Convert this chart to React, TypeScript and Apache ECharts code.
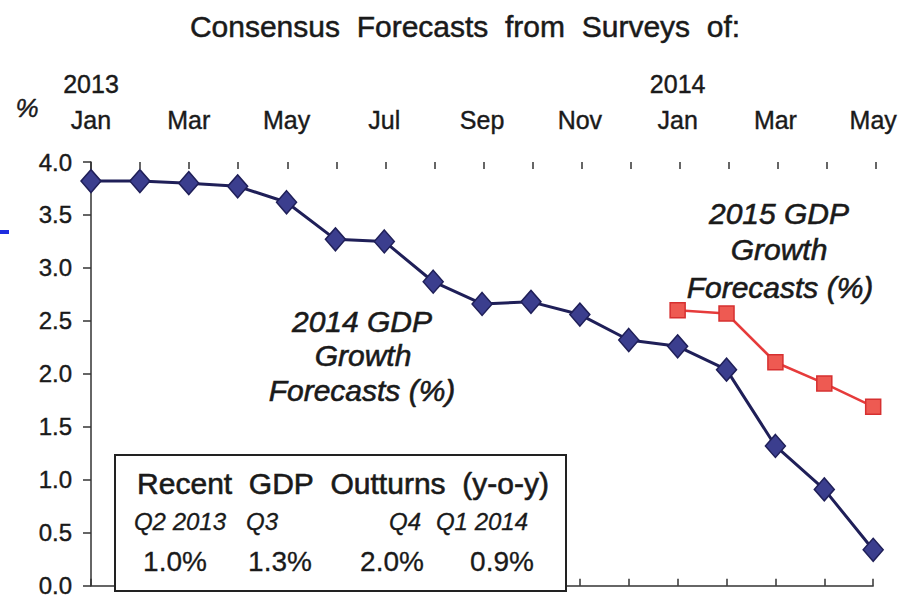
import React, { useEffect, useRef } from "react";
import * as echarts from "echarts";

const categories = [
  "2013\nJan", "Feb", "Mar", "Apr", "May", "Jun", "Jul", "Aug", "Sep", "Oct", "Nov", "Dec",
  "2014\nJan", "Feb", "Mar", "Apr", "May",
];
const gdp2014 = [3.82, 3.82, 3.8, 3.77, 3.62, 3.27, 3.25, 2.87, 2.66, 2.68, 2.56, 2.32, 2.26, 2.04, 1.32, 0.91, 0.34];
const gdp2015: (number | null)[] = [null, null, null, null, null, null, null, null, null, null, null, null, 2.6, 2.57, 2.11, 1.91, 1.69];

const outturnQuarters = ["Q2 2013", "Q3", "Q4", "Q1 2014"];
const outturnValues = ["1.0%", "1.3%", "2.0%", "0.9%"];

const FONT = "'Liberation Sans', Arial, Helvetica, sans-serif";
const TXT = "#1a1a1a";

function txt(text: string, x: number, y: number, font: string, stroke = 0.6) {
  return {
    type: "text",
    z: 100,
    style: {
      text,
      x,
      y,
      font,
      fill: TXT,
      stroke: TXT,
      lineWidth: stroke,
      align: "center",
      verticalAlign: "middle",
      textAlign: "center",
      textVerticalAlign: "middle",
    },
  };
}

export default function App() {
  const ref = useRef<HTMLDivElement>(null);
  useEffect(() => {
    if (!ref.current) return;
    const chart = echarts.init(ref.current, null, { renderer: "svg" });
    const qx = [180, 262, 405, 482];
    const vx = [175, 280, 392, 502];
    const option: any = {
      animation: false,
      backgroundColor: "#ffffff",
      grid: [
        { left: 91, right: 24, top: 162, bottom: 5, containLabel: false },
        { left: 91, right: 24, top: 100, bottom: 598 - 162, containLabel: false },
      ],
      xAxis: [
        {
          type: "category",
          gridIndex: 0,
          position: "top",
          data: categories,
          boundaryGap: false,
          axisLine: { show: true, lineStyle: { color: "#333", width: 1.5 } },
          axisTick: { show: true, interval: 0, length: 7, lineStyle: { color: "#333", width: 1.5 } },
          axisLabel: {
            show: true,
            interval: 1,
            margin: 24,
            color: TXT,
            fontSize: 25,
            lineHeight: 36,
            fontFamily: FONT,
            textBorderColor: TXT,
            textBorderWidth: 0.4,
          },
          splitLine: { show: false },
        },
        {
          type: "category",
          gridIndex: 1,
          position: "bottom",
          data: categories,
          boundaryGap: false,
          axisLine: { show: false },
          axisTick: { show: true, interval: 0, length: 7, lineStyle: { color: "#333", width: 1.5 } },
          axisLabel: { show: false },
          splitLine: { show: false },
        },
      ],
      yAxis: [
        {
          type: "value",
          gridIndex: 0,
          min: 0,
          max: 4,
          interval: 0.5,
          axisLine: { show: true, lineStyle: { color: "#333", width: 1.5 } },
          axisTick: { show: true, length: 8, lineStyle: { color: "#333", width: 1.5 } },
          axisLabel: {
            margin: 19,
            color: TXT,
            fontSize: 24,
            fontFamily: FONT,
            textBorderColor: TXT,
            textBorderWidth: 0.4,
            formatter: (v: number) => v.toFixed(1),
          },
          splitLine: { show: false },
        },
        { type: "value", gridIndex: 1, min: 0, max: 4, show: false },
      ],
      series: [
        {
          name: "2014 GDP Growth Forecasts (%)",
          type: "line",
          xAxisIndex: 0,
          yAxisIndex: 0,
          data: gdp2014,
          symbol: "diamond",
          symbolSize: [20, 23],
          lineStyle: { color: "#1f1f58", width: 3 },
          itemStyle: { color: "#3b3e8e", borderColor: "#1f1f58", borderWidth: 1.5 },
          z: 5,
        },
        {
          name: "2015 GDP Growth Forecasts (%)",
          type: "line",
          xAxisIndex: 0,
          yAxisIndex: 0,
          data: gdp2015,
          symbol: "rect",
          symbolSize: 15,
          lineStyle: { color: "#e63b3b", width: 2.5 },
          itemStyle: { color: "#ee5a52", borderColor: "#d63030", borderWidth: 1.5 },
          z: 6,
        },
      ],
      graphic: [
        txt("Consensus\u00a0 Forecasts\u00a0 from\u00a0 Surveys\u00a0 of:", 465, 26, `30px ${FONT}`, 0.5),
        txt("%", 27, 108, `italic 26px ${FONT}`, 0.4),
        txt("2014 GDP", 362, 321, `italic 30px ${FONT}`),
        txt("Growth", 363, 355, `italic 30px ${FONT}`),
        txt("Forecasts (%)", 362, 390, `italic 30px ${FONT}`),
        txt("2015 GDP", 779, 213, `italic 30px ${FONT}`),
        txt("Growth", 779, 249, `italic 30px ${FONT}`),
        txt("Forecasts (%)", 780, 287, `italic 30px ${FONT}`),
        {
          type: "rect",
          z: 90,
          shape: { x: 115, y: 455, width: 451, height: 136 },
          style: { fill: "#ffffff", stroke: "#222", lineWidth: 2 },
        },
        txt("Recent\u00a0 GDP\u00a0 Outturns\u00a0 (y-o-y)", 343, 483, `30px ${FONT}`, 0.6),
        ...outturnQuarters.map((q, i) => txt(q, qx[i], 521, `italic 24px ${FONT}`, 0.3)),
        ...outturnValues.map((v, i) => txt(v, vx[i], 561, `28px ${FONT}`, 0.3)),
        {
          type: "rect",
          z: 100,
          shape: { x: 0, y: 230, width: 9, height: 4 },
          style: { fill: "#1f2ee0" },
        },
      ],
    };
    chart.setOption(option);
    return () => chart.dispose();
  }, []);
  return <div ref={ref} style={{ width: 900, height: 598, position: "absolute", left: 0, top: 0 }} />;
}
